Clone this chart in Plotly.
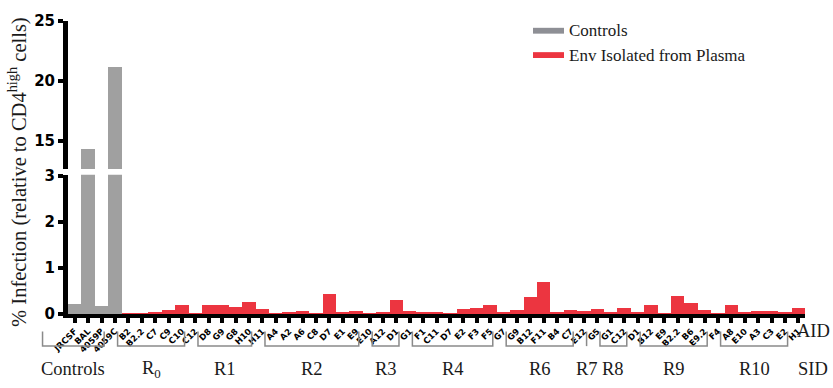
import plotly.graph_objects as go

# ---- data -------------------------------------------------------------
control_ids = ["JRCSF", "BAL", "4059P", "4059C"]
control_vals = [0.23, 14.3, 0.17, 21.2]

aid_r0 = ["B2", "B2.2", "C7", "C9", "C10", "C12"]
val_r0 = [0.01, 0.02, 0.05, 0.10, 0.20, 0.03]
aid_r1 = ["D8", "G9", "G8", "H10", "H11"]
val_r1 = [0.20, 0.21, 0.16, 0.26, 0.12]
aid_r2 = ["A4", "A2", "A6", "C8", "D7", "E1", "E9", "E10"]
val_r2 = [0.02, 0.04, 0.07, 0.03, 0.44, 0.05, 0.06, 0.02]
aid_r3 = ["A12", "D1", "G1"]
val_r3 = [0.05, 0.30, 0.07]
aid_r4 = ["F1", "C11", "D7", "E2", "F3", "F5", "G7"]
val_r4 = [0.05, 0.05, 0.03, 0.12, 0.13, 0.19, 0.05]
aid_r6 = ["G9", "B12", "F11", "B4", "C7", "E12"]
val_r6 = [0.09, 0.37, 0.69, 0.05, 0.09, 0.07]
aid_r7 = ["G5"]
val_r7 = [0.12]
aid_r8 = ["G1", "C12", "D1"]
val_r8 = [0.05, 0.14, 0.05]
aid_r9 = ["B12", "E9", "B2.2", "B6", "E9.2", "F4"]
val_r9 = [0.21, 0.01, 0.39, 0.25, 0.09, 0.03]
aid_r10 = ["A8", "E10", "A3", "C3", "E2", "H1"]
val_r10 = [0.21, 0.05, 0.06, 0.08, 0.05, 0.14]

sid_labels = ["Controls", "R<sub>0</sub>", "R1", "R2", "R3", "R4",
              "R6", "R7", "R8", "R9", "R10"]
aid_groups = [control_ids, aid_r0, aid_r1, aid_r2, aid_r3, aid_r4,
              aid_r6, aid_r7, aid_r8, aid_r9, aid_r10]
env_vals = (val_r0 + val_r1 + val_r2 + val_r3 + val_r4 + val_r6 +
            val_r7 + val_r8 + val_r9 + val_r10)

all_ids = [a for g in aid_groups for a in g]
n_bars = len(all_ids)
x_all = list(range(n_bars))
x_ctrl = x_all[:len(control_ids)]
x_env = x_all[len(control_ids):]

# ---- styling ----------------------------------------------------------
GRAY = "#a0a0a0"
RED = "#ec3540"
SERIF = "Liberation Serif"
SANS = "DejaVu Sans"
TEXT = "#1a1a1a"

W, H = 833, 388
L, R, T, B = 68, 28, 13, 74
plot_w = W - L - R
plot_h = H - T - B


def px_x(px):
    return (px - L) / plot_w


def px_y(py):
    return (H - B - py) / plot_h


def data_to_paper(xv):
    return (xv + 0.5) / n_bars


fig = go.Figure()

# lower panel (0-3) and upper panel (12.7-25) of the broken axis
fig.add_bar(x=x_ctrl, y=control_vals, marker_color=GRAY, xaxis="x",
            yaxis="y", showlegend=False, marker_line_width=0)
fig.add_bar(x=x_env, y=env_vals, marker_color=RED, xaxis="x", yaxis="y",
            showlegend=False, marker_line_width=0)
fig.add_bar(x=x_ctrl, y=control_vals, marker_color=GRAY, xaxis="x2",
            yaxis="y2", showlegend=False, marker_line_width=0)


def y_axis_style():
    return dict(showline=True, linewidth=5, linecolor="black",
                ticks="outside", ticklen=5, tickwidth=4, tickcolor="black",
                showgrid=False, zeroline=False,
                tickfont=dict(family=SANS, size=15, color="black", weight=700))


fig.update_layout(
    width=W, height=H,
    margin=dict(l=L, r=R, t=T, b=B),
    paper_bgcolor="white", plot_bgcolor="white",
    font=dict(color="black"),
    bargap=0, barmode="overlay",
    xaxis=dict(domain=[0, 1], range=[-0.5, n_bars - 0.5], anchor="y",
               tickmode="array", tickvals=x_all, ticktext=all_ids,
               tickangle=-45, ticks="outside", ticklen=5, tickwidth=4,
               tickcolor="black", showline=True, linewidth=4,
               linecolor="black", showgrid=False, zeroline=False,
               tickfont=dict(family=SANS, size=8.5, color="black",
                             weight=700)),
    xaxis2=dict(domain=[0, 1], matches="x", anchor="y2", visible=False),
    yaxis=dict(domain=[0, px_y(171)], range=[0, 3.02],
               tickvals=[0, 1, 2, 3], anchor="x", **y_axis_style()),
    yaxis2=dict(domain=[px_y(165), 1], range=[12.67, 25],
                tickvals=[15, 20, 25], anchor="x2", **y_axis_style()),
)

# group brackets and SID labels under the AID tick labels
shapes = []
annotations = []
start = 0
y_top, y_bot = px_y(332), px_y(347)
for gi, (label, ids) in enumerate(zip(sid_labels, aid_groups)):
    first, last = start, start + len(ids) - 1
    left_off = 2.4 if gi == 0 else 0.8
    x0 = data_to_paper(first - left_off)
    x1 = data_to_paper(last - 0.8)
    line = dict(color="#8a8a8a", width=1.5)
    if first == last:
        shapes.append(dict(type="line", xref="paper", yref="paper",
                           x0=x1, x1=x1, y0=y_top, y1=y_bot, line=line))
    else:
        shapes.append(dict(type="path", xref="paper", yref="paper",
                           path=f"M {x0} {y_top} L {x0} {y_bot} L {x1} {y_bot} L {x1} {y_top}",
                           line=line))
    annotations.append(dict(text=label, x=(x0 + x1) / 2, y=px_y(371),
                            xref="paper", yref="paper", showarrow=False,
                            xanchor="center", yanchor="middle",
                            font=dict(family=SERIF, size=18.5, color=TEXT)))
    start = last + 1

annotations += [
    dict(text="AID", x=px_x(813), y=px_y(331), xref="paper", yref="paper",
         showarrow=False, xanchor="center", yanchor="middle",
         font=dict(family=SERIF, size=18.5, color=TEXT)),
    dict(text="SID", x=px_x(813), y=px_y(371), xref="paper", yref="paper",
         showarrow=False, xanchor="center", yanchor="middle",
         font=dict(family=SERIF, size=18.5, color=TEXT)),
    dict(text="% Infection (relative to CD4<sup>high</sup> cells)",
         x=px_x(18), y=px_y(168), xref="paper", yref="paper",
         showarrow=False, textangle=-90, xanchor="center", yanchor="middle",
         font=dict(family=SERIF, size=20.5, color=TEXT)),
]

# legend: wide swatches with serif labels
legend_items = [("Controls", "#8e8f95", 23), ("Env Isolated from Plasma", RED, 48)]
for text, color, cy in legend_items:
    shapes.append(dict(type="rect", xref="paper", yref="paper",
                       x0=px_x(533), x1=px_x(564), y0=px_y(cy - 3),
                       y1=px_y(cy + 3), fillcolor=color, line_width=0))
    annotations.append(dict(text=text, x=px_x(567), y=px_y(cy), xref="paper",
                            yref="paper", showarrow=False, xanchor="left",
                            yanchor="middle",
                            font=dict(family=SERIF, size=17, color=TEXT)))

fig.update_layout(shapes=shapes, annotations=annotations)

fig.write_html("out.html")
